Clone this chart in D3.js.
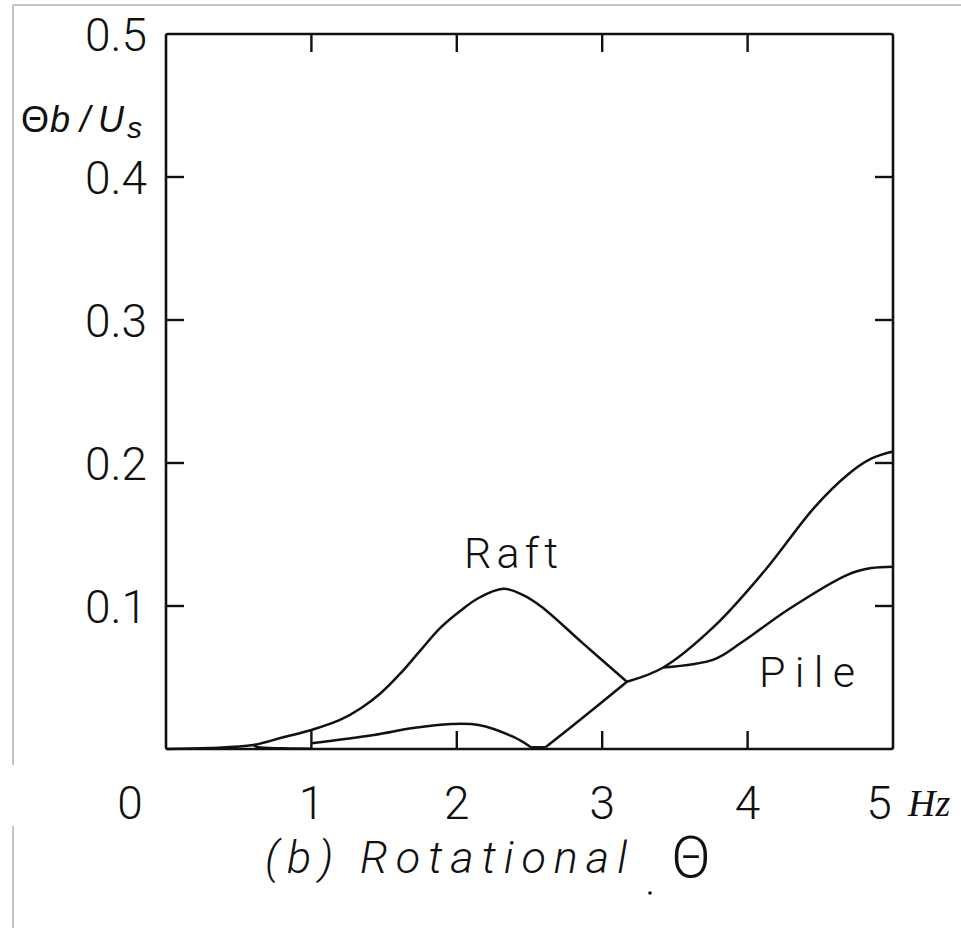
<!DOCTYPE html>
<html>
<head>
<meta charset="utf-8">
<script src="https://cdn.jsdelivr.net/npm/d3@7"></script>
<style>
  html, body { margin: 0; padding: 0; background: #fff; }
  svg { display: block; }
</style>
</head>
<body>
<script>
// ---- data (frequency in Hz, amplitude Θb/Us) ----
const xTickValues = [0, 1, 2, 3, 4, 5];
const xTickLabels = ["0", "1", "2", "3", "4", "5"];
const yTickValues = [0.1, 0.2, 0.3, 0.4, 0.5];
const yTickLabels = ["0.1", "0.2", "0.3", "0.4", "0.5"];

// Raft response (upper envelope up to the crossing)
const raftCurve = [[0,0],[0.3,0.0007],[0.6,0.0028],[0.8,0.008],[1.0,0.0133],[1.2,0.0205],[1.34,0.0285],[1.476,0.039],[1.614,0.053],[1.75,0.069],[1.89,0.085],[2.03,0.097],[2.15,0.1056],[2.32,0.112],[2.45,0.108],[2.58,0.0997],[2.86,0.0746],[3.17,0.047]];
// lower branch of the small lens between 0.6 and 1 Hz
const lensLower = [[0.6,0.0028],[0.63,0.0014],[0.8,0.0005],[1.0,0.0002]];
// small hump between 1 and 2.5 Hz
const smallHump = [[1.0,0.004],[1.43,0.0098],[1.70,0.0147],[1.96,0.0175],[2.15,0.0168],[2.39,0.0084],[2.51,0.0012]];
// pile rising branch 2.6 - 3.17 Hz
const pileRising = [[2.61,0.0012],[2.855,0.021],[3.17,0.047]];
// shared segment and upper branch to 5 Hz
const upperBranch = [[3.17,0.047],[3.42,0.057],[3.77,0.0857],[4.12,0.125],[4.46,0.169],[4.69,0.192],[4.85,0.203],[5.0,0.208]];
// Pile lower branch to 5 Hz
const pileLower = [[3.42,0.057],[3.77,0.0627],[3.96,0.0746],[4.28,0.0976],[4.69,0.122],[4.85,0.1265],[5.0,0.1275]];
// connector on the baseline near 2.5 Hz
const connector = [[2.51,0.0012],[2.61,0.0012]];

const W = 961, H = 929;
const svg = d3.select("body").append("svg").attr("width", W).attr("height", H);

// gray scan border
const gray = "#c4c4c4";
svg.append("line").attr("x1", 13).attr("x2", W).attr("y1", 5).attr("y2", 5).attr("stroke", gray).attr("stroke-width", 2);
svg.append("line").attr("x1", 13).attr("x2", 13).attr("y1", 5).attr("y2", 765).attr("stroke", gray).attr("stroke-width", 2);
svg.append("line").attr("x1", 13).attr("x2", 13).attr("y1", 826).attr("y2", 928).attr("stroke", gray).attr("stroke-width", 2);

const x = d3.scaleLinear().domain([0, 5]).range([166, 893]);
const y = d3.scaleLinear().domain([0, 0.5]).range([749, 34]);
const ink = "#111";

// frame
svg.append("rect")
  .attr("x", x(0)).attr("y", y(0.5))
  .attr("width", x(5) - x(0)).attr("height", y(0) - y(0.5))
  .attr("rx", 2)
  .attr("fill", "none").attr("stroke", ink).attr("stroke-width", 2.6);

const tl = 18;
const g = svg.append("g").attr("stroke", ink).attr("stroke-width", 2.4);
xTickValues.filter(v => v > 0 && v < 5).forEach(v => {
  g.append("line").attr("x1", x(v)).attr("x2", x(v)).attr("y1", y(0.5)).attr("y2", y(0.5) + tl);
  g.append("line").attr("x1", x(v)).attr("x2", x(v)).attr("y1", y(0)).attr("y2", y(0) - tl);
});
yTickValues.filter(v => v < 0.5).forEach(v => {
  g.append("line").attr("x1", x(0)).attr("x2", x(0) + tl).attr("y1", y(v)).attr("y2", y(v));
  g.append("line").attr("x1", x(5)).attr("x2", x(5) - tl).attr("y1", y(v)).attr("y2", y(v));
});

// curves
const line = d3.line().x(d => x(d[0])).y(d => y(d[1])).curve(d3.curveCatmullRom.alpha(0.5));
[raftCurve, lensLower, smallHump, pileRising, upperBranch, pileLower, connector].forEach(s => {
  svg.append("path").attr("d", line(s)).attr("fill", "none")
    .attr("stroke", ink).attr("stroke-width", 2.5).attr("stroke-linejoin", "round");
});

// tick labels
const labFont = "Roboto, 'Liberation Sans', sans-serif";
yTickValues.forEach((v, i) => {
  svg.append("text").attr("x", 147).attr("y", y(v) + 17)
    .attr("text-anchor", "end").attr("font-family", labFont).attr("font-weight", 300)
    .attr("font-size", 46).attr("fill", ink).text(yTickLabels[i]);
});
xTickValues.forEach((v, i) => {
  const xx = v === 0 ? x(v) - 36 : (v === 5 ? x(v) - 14 : x(v));
  svg.append("text").attr("x", xx).attr("y", 819)
    .attr("text-anchor", "middle").attr("font-family", labFont).attr("font-weight", 300)
    .attr("font-size", 46).attr("fill", ink).text(xTickLabels[i]);
});
svg.append("text").attr("x", 908).attr("y", 816)
  .attr("font-family", "'Liberation Serif', serif").attr("font-style", "italic")
  .attr("font-size", 38).attr("fill", ink).text("Hz");

// y axis title
const yt = svg.append("text").attr("x", 21).attr("y", 132)
  .attr("font-family", "'Liberation Sans', sans-serif").attr("font-size", 36).attr("fill", ink);
yt.append("tspan").attr("font-weight", 300).text("Θ");
yt.append("tspan").attr("font-style", "italic").attr("dx", 1).text("b");
yt.append("tspan").attr("font-style", "italic").attr("dx", 10).text("/");
yt.append("tspan").attr("font-style", "italic").attr("dx", 8).text("U");
yt.append("tspan").attr("font-style", "italic").attr("font-size", 30).attr("dx", 3).attr("dy", 6).text("s");

// series labels
svg.append("text").attr("x", 464).attr("y", 568)
  .attr("font-family", labFont).attr("font-weight", 300).attr("font-size", 43)
  .attr("textLength", 94).attr("lengthAdjust", "spacing").attr("fill", ink).text("Raft");
svg.append("text").attr("x", 759).attr("y", 687)
  .attr("font-family", labFont).attr("font-weight", 300).attr("font-size", 43)
  .attr("textLength", 96).attr("lengthAdjust", "spacing").attr("fill", ink).text("Pile");

// caption
svg.append("text").attr("x", 265).attr("y", 873)
  .attr("font-family", labFont).attr("font-style", "italic").attr("font-weight", 300)
  .attr("font-size", 45).attr("textLength", 362).attr("lengthAdjust", "spacing")
  .attr("fill", ink).text("(b) Rotational");
svg.append("text").attr("x", 691).attr("y", 877).attr("text-anchor", "middle")
  .attr("font-family", labFont).attr("font-weight", 300)
  .attr("font-size", 58).attr("fill", ink).text("Θ");
svg.append("circle").attr("cx", 650).attr("cy", 893).attr("r", 1.8).attr("fill", ink);
</script>
</body>
</html>
